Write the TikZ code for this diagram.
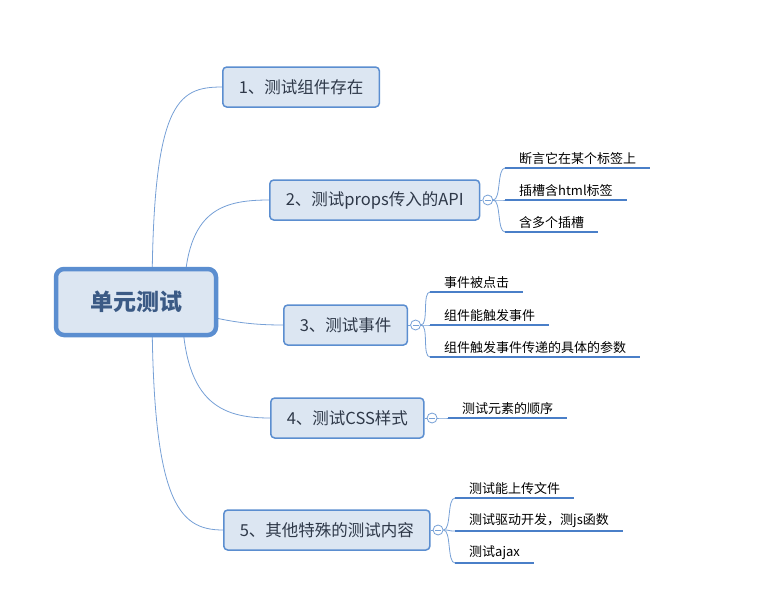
\documentclass[tikz,border=0pt]{standalone}
\usepackage{fontspec}
\setmainfont{Noto Sans CJK SC}
\usetikzlibrary{positioning,backgrounds}
\definecolor{edge}{HTML}{5B8ED0}
\definecolor{wire}{HTML}{76A0D6}
\definecolor{paper}{HTML}{DCE6F2}
\definecolor{ink}{HTML}{2E3848}
\definecolor{rootink}{HTML}{3B5A85}
\definecolor{uline}{HTML}{4A7FC8}

\begin{document}
\begin{tikzpicture}[x=1pt,y=-1pt, node distance=2pt, every node/.style={font=\fontsize{13}{15}\selectfont},
  root/.style={draw=edge,line width=4.5pt,rounded corners=8pt,fill=paper,minimum height=66pt,inner xsep=34pt,font=\fontsize{23}{26}\selectfont\bfseries,text=rootink},
  topic/.style={draw=edge,line width=1.5pt,rounded corners=4pt,fill=paper,minimum height=40pt,inner xsep=16pt,anchor=west,font=\fontsize{16.5}{18}\selectfont,text=ink},
  fold/.style={circle,draw=wire,fill=white,line width=0.8pt,minimum size=10pt,inner sep=0pt,path picture={\draw[wire,line width=0.8pt] ([xshift=-3pt]path picture bounding box.center)--([xshift=3pt]path picture bounding box.center);}},
  leaf/.style={anchor=south west,inner xsep=14pt,inner ysep=3pt},
  wire/.style={draw=wire,line width=0.8pt},
  under/.style={draw=uline,line width=2.5pt}]
\useasboundingbox (0,0) rectangle (769,598);
\node[root] (root) at (136,302) {单元测试};
\node[topic] (t1) at (222,87) {1、测试组件存在};
\node[topic] (t2) at (269,200) {2、测试props传入的API};
\node[topic] (t3) at (283,325) {3、测试事件};
\node[topic] (t4) at (270,418) {4、测试CSS样式};
\node[topic] (t5) at (223,530) {5、其他特殊的测试内容};
\node[fold,right=of t2] (f2) {};
\node[fold,right=of t3] (f3) {};
\node[fold,right=of t4] (f4) {};
\node[fold,right=of t5] (f5) {};
% leaves
\node[leaf] (l21) at (505,168) {断言它在某个标签上};
\node[leaf] (l22) at (505,200) {插槽含html标签};
\node[leaf] (l23) at (505,232) {含多个插槽};
\node[leaf] (l31) at (430,292) {事件被点击};
\node[leaf] (l32) at (430,325) {组件能触发事件};
\node[leaf] (l33) at (430,357) {组件触发事件传递的具体的参数};
\node[leaf] (l41) at (448,418) {测试元素的顺序};
\node[leaf] (l51) at (455,498) {测试能上传文件};
\node[leaf] (l52) at (455,531) {测试驱动开发，测js函数};
\node[leaf] (l53) at (455,563) {测试ajax};
\begin{scope}[on background layer]
\draw[wire] ([xshift=16pt]root.center) .. controls +(0,-200) and +(-45,0) .. (t1.west);
\draw[wire] ([xshift=48pt]root.center) .. controls +(0,-90) and +(-50,0) .. (t2.west);
\draw[wire] ([xshift=20pt]root.center) .. controls +(60,18) and +(-40,0) .. (t3.west);
\draw[wire] ([xshift=46pt]root.center) .. controls +(0,100) and +(-50,0) .. (t4.west);
\draw[wire] ([xshift=16pt]root.center) .. controls +(0,200) and +(-45,0) .. (t5.west);
\end{scope}
\foreach \t in {2,3,4,5} \draw[wire] (t\t.east)--(f\t.west);
\foreach \f/\l in {2/21,2/22,2/23,3/31,3/32,3/33,4/41,5/51,5/52,5/53}
  \draw[wire] (f\f.east) .. controls +(8,0) and +(-8,0) .. (l\l.south west);
\foreach \l in {21,22,23,31,32,33,41,51,52,53}
  \draw[under] (l\l.south west)--(l\l.south east);
\end{tikzpicture}
\end{document}
